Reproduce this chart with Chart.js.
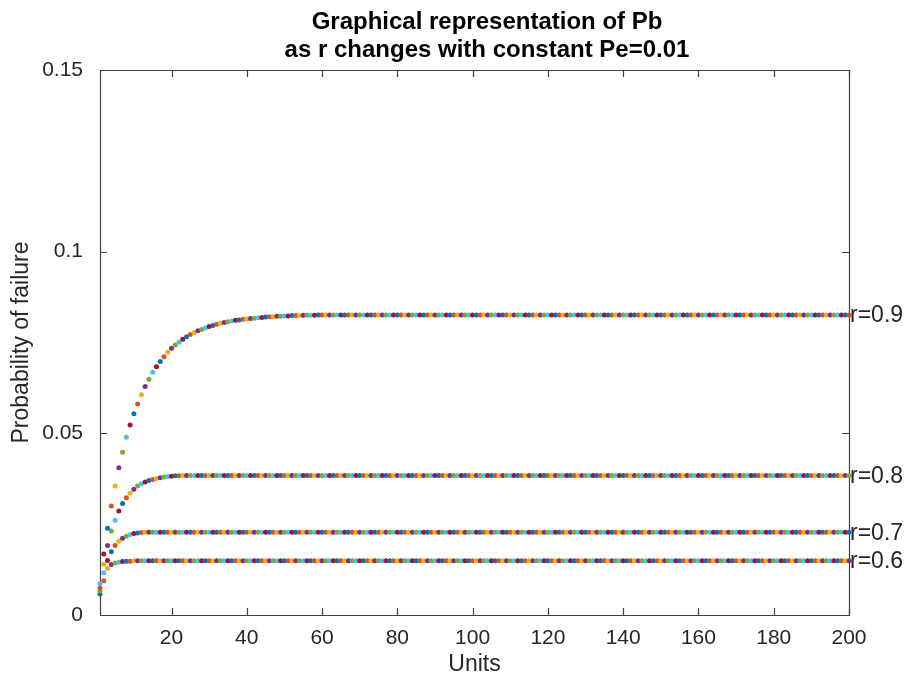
<!DOCTYPE html>
<html>
<head>
<meta charset="utf-8">
<script src="https://cdn.jsdelivr.net/npm/chart.js@4/dist/chart.umd.min.js"></script>
<style>
  html, body { margin: 0; padding: 0; background: #ffffff; }
  #wrap { width: 907px; height: 681px; }
</style>
</head>
<body>
<div id="wrap"><canvas id="c" width="907" height="681"></canvas></div>
<script>
// ---------------- data ----------------
const titleLines = ["Graphical representation of Pb", "as r changes with constant Pe=0.01"];
const xLabel = "Units";
const yLabel = "Probability of failure";
const seriesNames = ["r=0.6", "r=0.7", "r=0.8", "r=0.9"];
const xTicks = [20, 40, 60, 80, 100, 120, 140, 160, 180, 200];
const yTicks = [0, 0.05, 0.1, 0.15];
const yTickLabels = ["0", "0.05", "0.1", "0.15"];
const units = Array.from({ length: 200 }, (_, i) => i + 1);

const r06 = [
0.0058,0.0094,0.0128,0.0139,0.0143,0.0145,0.0147,0.0148,0.0148,0.0149,
0.0149,0.0149,0.0149,0.0149,0.0149,0.0149,0.0149,0.0149,0.0149,0.0149,
0.0149,0.0149,0.0149,0.0149,0.0149,0.0149,0.0149,0.0149,0.0149,0.0149,
0.0149,0.0149,0.0149,0.0149,0.0149,0.0149,0.0149,0.0149,0.0149,0.0149,
0.0149,0.0149,0.0149,0.0149,0.0149,0.0149,0.0149,0.0149,0.0149,0.0149,
0.0149,0.0149,0.0149,0.0149,0.0149,0.0149,0.0149,0.0149,0.0149,0.0149,
0.0149,0.0149,0.0149,0.0149,0.0149,0.0149,0.0149,0.0149,0.0149,0.0149,
0.0149,0.0149,0.0149,0.0149,0.0149,0.0149,0.0149,0.0149,0.0149,0.0149,
0.0149,0.0149,0.0149,0.0149,0.0149,0.0149,0.0149,0.0149,0.0149,0.0149,
0.0149,0.0149,0.0149,0.0149,0.0149,0.0149,0.0149,0.0149,0.0149,0.0149,
0.0149,0.0149,0.0149,0.0149,0.0149,0.0149,0.0149,0.0149,0.0149,0.0149,
0.0149,0.0149,0.0149,0.0149,0.0149,0.0149,0.0149,0.0149,0.0149,0.0149,
0.0149,0.0149,0.0149,0.0149,0.0149,0.0149,0.0149,0.0149,0.0149,0.0149,
0.0149,0.0149,0.0149,0.0149,0.0149,0.0149,0.0149,0.0149,0.0149,0.0149,
0.0149,0.0149,0.0149,0.0149,0.0149,0.0149,0.0149,0.0149,0.0149,0.0149,
0.0149,0.0149,0.0149,0.0149,0.0149,0.0149,0.0149,0.0149,0.0149,0.0149,
0.0149,0.0149,0.0149,0.0149,0.0149,0.0149,0.0149,0.0149,0.0149,0.0149,
0.0149,0.0149,0.0149,0.0149,0.0149,0.0149,0.0149,0.0149,0.0149,0.0149,
0.0149,0.0149,0.0149,0.0149,0.0149,0.0149,0.0149,0.0149,0.0149,0.0149,
0.0149,0.0149,0.0149,0.0149,0.0149,0.0149,0.0149,0.0149,0.0149,0.0149
];

const r07 = [
0.0066,0.0116,0.0150,0.0174,0.0191,0.0203,0.0211,0.0217,0.0221,0.0224,
0.0226,0.0227,0.0228,0.0228,0.0228,0.0228,0.0228,0.0228,0.0228,0.0228,
0.0228,0.0228,0.0228,0.0228,0.0228,0.0228,0.0228,0.0228,0.0228,0.0228,
0.0228,0.0228,0.0228,0.0228,0.0228,0.0228,0.0228,0.0228,0.0228,0.0228,
0.0228,0.0228,0.0228,0.0228,0.0228,0.0228,0.0228,0.0228,0.0228,0.0228,
0.0228,0.0228,0.0228,0.0228,0.0228,0.0228,0.0228,0.0228,0.0228,0.0228,
0.0228,0.0228,0.0228,0.0228,0.0228,0.0228,0.0228,0.0228,0.0228,0.0228,
0.0228,0.0228,0.0228,0.0228,0.0228,0.0228,0.0228,0.0228,0.0228,0.0228,
0.0228,0.0228,0.0228,0.0228,0.0228,0.0228,0.0228,0.0228,0.0228,0.0228,
0.0228,0.0228,0.0228,0.0228,0.0228,0.0228,0.0228,0.0228,0.0228,0.0228,
0.0228,0.0228,0.0228,0.0228,0.0228,0.0228,0.0228,0.0228,0.0228,0.0228,
0.0228,0.0228,0.0228,0.0228,0.0228,0.0228,0.0228,0.0228,0.0228,0.0228,
0.0228,0.0228,0.0228,0.0228,0.0228,0.0228,0.0228,0.0228,0.0228,0.0228,
0.0228,0.0228,0.0228,0.0228,0.0228,0.0228,0.0228,0.0228,0.0228,0.0228,
0.0228,0.0228,0.0228,0.0228,0.0228,0.0228,0.0228,0.0228,0.0228,0.0228,
0.0228,0.0228,0.0228,0.0228,0.0228,0.0228,0.0228,0.0228,0.0228,0.0228,
0.0228,0.0228,0.0228,0.0228,0.0228,0.0228,0.0228,0.0228,0.0228,0.0228,
0.0228,0.0228,0.0228,0.0228,0.0228,0.0228,0.0228,0.0228,0.0228,0.0228,
0.0228,0.0228,0.0228,0.0228,0.0228,0.0228,0.0228,0.0228,0.0228,0.0228,
0.0228,0.0228,0.0228,0.0228,0.0228,0.0228,0.0228,0.0228,0.0228,0.0228
];

const r08 = [
0.0074,0.0140,0.0191,0.0231,0.0261,0.0286,0.0307,0.0323,0.0335,0.0346,
0.0355,0.0361,0.0366,0.0370,0.0373,0.0376,0.0378,0.0380,0.0381,0.0382,
0.0383,0.0383,0.0384,0.0384,0.0384,0.0384,0.0384,0.0384,0.0384,0.0384,
0.0384,0.0384,0.0384,0.0384,0.0384,0.0384,0.0384,0.0384,0.0384,0.0384,
0.0384,0.0384,0.0384,0.0384,0.0384,0.0384,0.0384,0.0384,0.0384,0.0384,
0.0384,0.0384,0.0384,0.0384,0.0384,0.0384,0.0384,0.0384,0.0384,0.0384,
0.0384,0.0384,0.0384,0.0384,0.0384,0.0384,0.0384,0.0384,0.0384,0.0384,
0.0384,0.0384,0.0384,0.0384,0.0384,0.0384,0.0384,0.0384,0.0384,0.0384,
0.0384,0.0384,0.0384,0.0384,0.0384,0.0384,0.0384,0.0384,0.0384,0.0384,
0.0384,0.0384,0.0384,0.0384,0.0384,0.0384,0.0384,0.0384,0.0384,0.0384,
0.0384,0.0384,0.0384,0.0384,0.0384,0.0384,0.0384,0.0384,0.0384,0.0384,
0.0384,0.0384,0.0384,0.0384,0.0384,0.0384,0.0384,0.0384,0.0384,0.0384,
0.0384,0.0384,0.0384,0.0384,0.0384,0.0384,0.0384,0.0384,0.0384,0.0384,
0.0384,0.0384,0.0384,0.0384,0.0384,0.0384,0.0384,0.0384,0.0384,0.0384,
0.0384,0.0384,0.0384,0.0384,0.0384,0.0384,0.0384,0.0384,0.0384,0.0384,
0.0384,0.0384,0.0384,0.0384,0.0384,0.0384,0.0384,0.0384,0.0384,0.0384,
0.0384,0.0384,0.0384,0.0384,0.0384,0.0384,0.0384,0.0384,0.0384,0.0384,
0.0384,0.0384,0.0384,0.0384,0.0384,0.0384,0.0384,0.0384,0.0384,0.0384,
0.0384,0.0384,0.0384,0.0384,0.0384,0.0384,0.0384,0.0384,0.0384,0.0384,
0.0384,0.0384,0.0384,0.0384,0.0384,0.0384,0.0384,0.0384,0.0384,0.0384
];

const r09 = [
0.0087,0.0168,0.0239,0.0300,0.0355,0.0405,0.0448,0.0489,0.0523,0.0554,
0.0581,0.0606,0.0629,0.0649,0.0668,0.0683,0.0698,0.0711,0.0723,0.0734,
0.0743,0.0751,0.0759,0.0766,0.0772,0.0777,0.0782,0.0786,0.0790,0.0794,
0.0797,0.0800,0.0803,0.0805,0.0807,0.0809,0.0811,0.0812,0.0814,0.0815,
0.0816,0.0817,0.0818,0.0819,0.0820,0.0821,0.0821,0.0822,0.0822,0.0823,
0.0823,0.0824,0.0824,0.0824,0.0825,0.0825,0.0825,0.0825,0.0826,0.0826,
0.0826,0.0826,0.0826,0.0826,0.0826,0.0826,0.0826,0.0826,0.0826,0.0826,
0.0826,0.0826,0.0826,0.0826,0.0826,0.0826,0.0826,0.0826,0.0826,0.0826,
0.0826,0.0826,0.0826,0.0826,0.0826,0.0826,0.0826,0.0826,0.0826,0.0826,
0.0826,0.0826,0.0826,0.0826,0.0826,0.0826,0.0826,0.0826,0.0826,0.0826,
0.0826,0.0826,0.0826,0.0826,0.0826,0.0826,0.0826,0.0826,0.0826,0.0826,
0.0826,0.0826,0.0826,0.0826,0.0826,0.0826,0.0826,0.0826,0.0826,0.0826,
0.0826,0.0826,0.0826,0.0826,0.0826,0.0826,0.0826,0.0826,0.0826,0.0826,
0.0826,0.0826,0.0826,0.0826,0.0826,0.0826,0.0826,0.0826,0.0826,0.0826,
0.0826,0.0826,0.0826,0.0826,0.0826,0.0826,0.0826,0.0826,0.0826,0.0826,
0.0826,0.0826,0.0826,0.0826,0.0826,0.0826,0.0826,0.0826,0.0826,0.0826,
0.0826,0.0826,0.0826,0.0826,0.0826,0.0826,0.0826,0.0826,0.0826,0.0826,
0.0826,0.0826,0.0826,0.0826,0.0826,0.0826,0.0826,0.0826,0.0826,0.0826,
0.0826,0.0826,0.0826,0.0826,0.0826,0.0826,0.0826,0.0826,0.0826,0.0826,
0.0826,0.0826,0.0826,0.0826,0.0826,0.0826,0.0826,0.0826,0.0826,0.0826
];

// ---------------- style ----------------
const palette = ["#0072BD", "#D95319", "#EDB120", "#7E2F8E", "#77AC30", "#4DBEEE", "#A2142F"];
const colorStart = [0, 4, 1, 5];   // colour-order offset of each series
const textColor = "#262626";
const axisColor = "#404040";
const FONT = "'Liberation Sans', Arial, Helvetica, sans-serif";

const allSeries = [r06, r07, r08, r09];

function makeDataset(vals, k) {
  return {
    label: seriesNames[k],
    data: vals.map((v, i) => ({ x: units[i], y: v })),
    pointRadius: 2.5,
    pointHoverRadius: 2.5,
    pointBorderWidth: 0,
    pointBackgroundColor: vals.map((v, i) => palette[(colorStart[k] + i) % palette.length]),
    pointBorderColor: 'rgba(0,0,0,0)',
    showLine: false,
    clip: false
  };
}

// draw r=0.9 last (on top) -> in Chart.js dataset 0 is drawn last
const datasets = allSeries.map((s, k) => makeDataset(s, k)).reverse();

const framePlugin = {
  id: 'frame',
  beforeDatasetsDraw(chart) {
    const { ctx, chartArea: a, scales } = chart;
    const xs = scales.x, ys = scales.y;
    ctx.save();
    ctx.strokeStyle = axisColor;
    ctx.lineWidth = 1.2;
    ctx.beginPath();
    ctx.rect(Math.round(a.left) + 0.5, Math.round(a.top) + 0.5,
             Math.round(a.right - a.left), Math.round(a.bottom - a.top));
    ctx.stroke();
    const tl = 7;
    ctx.beginPath();
    xTicks.forEach(t => {
      const px = Math.round(xs.getPixelForValue(t)) + 0.5;
      ctx.moveTo(px, a.bottom); ctx.lineTo(px, a.bottom - tl);
      ctx.moveTo(px, a.top); ctx.lineTo(px, a.top + tl);
    });
    yTicks.forEach(t => {
      const py = Math.round(ys.getPixelForValue(t)) + 0.5;
      ctx.moveTo(a.left, py); ctx.lineTo(a.left + tl, py);
      ctx.moveTo(a.right, py); ctx.lineTo(a.right - tl, py);
    });
    ctx.stroke();
    ctx.restore();
  },
  afterDraw(chart) {
    const { ctx, chartArea: a, scales } = chart;
    const ys = scales.y;
    ctx.save();
    ctx.fillStyle = "#000000";
    ctx.textAlign = 'center';
    ctx.textBaseline = 'alphabetic';
    ctx.font = "bold 24px " + FONT;
    ctx.fillText(titleLines[0], 487, 29);
    ctx.fillText(titleLines[1], 487, 57);

    ctx.fillStyle = textColor;
    ctx.font = "23px " + FONT;
    ctx.textBaseline = 'middle';
    ctx.fillText(xLabel, (a.left + a.right) / 2, 665);

    ctx.save();
    ctx.translate(22, (a.top + a.bottom) / 2);
    ctx.rotate(-Math.PI / 2);
    ctx.fillText(yLabel, 0, 0);
    ctx.restore();

    ctx.textAlign = 'left';
    ctx.font = "23px " + FONT;
    allSeries.forEach((s, k) => {
      const py = ys.getPixelForValue(s[s.length - 1]);
      ctx.fillText(seriesNames[k], a.right + 1, py + 1);
    });
    ctx.restore();
  }
};

new Chart(document.getElementById('c'), {
  type: 'scatter',
  data: { datasets },
  options: {
    responsive: false,
    animation: false,
    events: [],
    layout: { padding: { top: 70, right: 58, bottom: 0, left: 0 } },
    plugins: { legend: { display: false }, title: { display: false }, tooltip: { enabled: false } },
    scales: {
      x: {
        type: 'linear',
        min: 1, max: 200,
        afterBuildTicks: s => { s.ticks = xTicks.map(v => ({ value: v })); },
        afterFit: s => { s.height = 66; },
        grid: { display: false, drawTicks: false },
        border: { display: false },
        ticks: {
          color: textColor, padding: 11, maxRotation: 0, autoSkip: false,
          font: { family: FONT, size: 21 },
          callback: v => String(v)
        }
      },
      y: {
        type: 'linear',
        min: 0, max: 0.15,
        afterBuildTicks: s => { s.ticks = yTicks.map(v => ({ value: v })); },
        afterFit: s => { s.width = 100; },
        grid: { display: false, drawTicks: false },
        border: { display: false },
        ticks: {
          color: textColor, padding: 17, autoSkip: false,
          font: { family: FONT, size: 21 },
          callback: v => yTickLabels[yTicks.indexOf(v)]
        }
      }
    }
  },
  plugins: [framePlugin]
});
</script>
</body>
</html>
